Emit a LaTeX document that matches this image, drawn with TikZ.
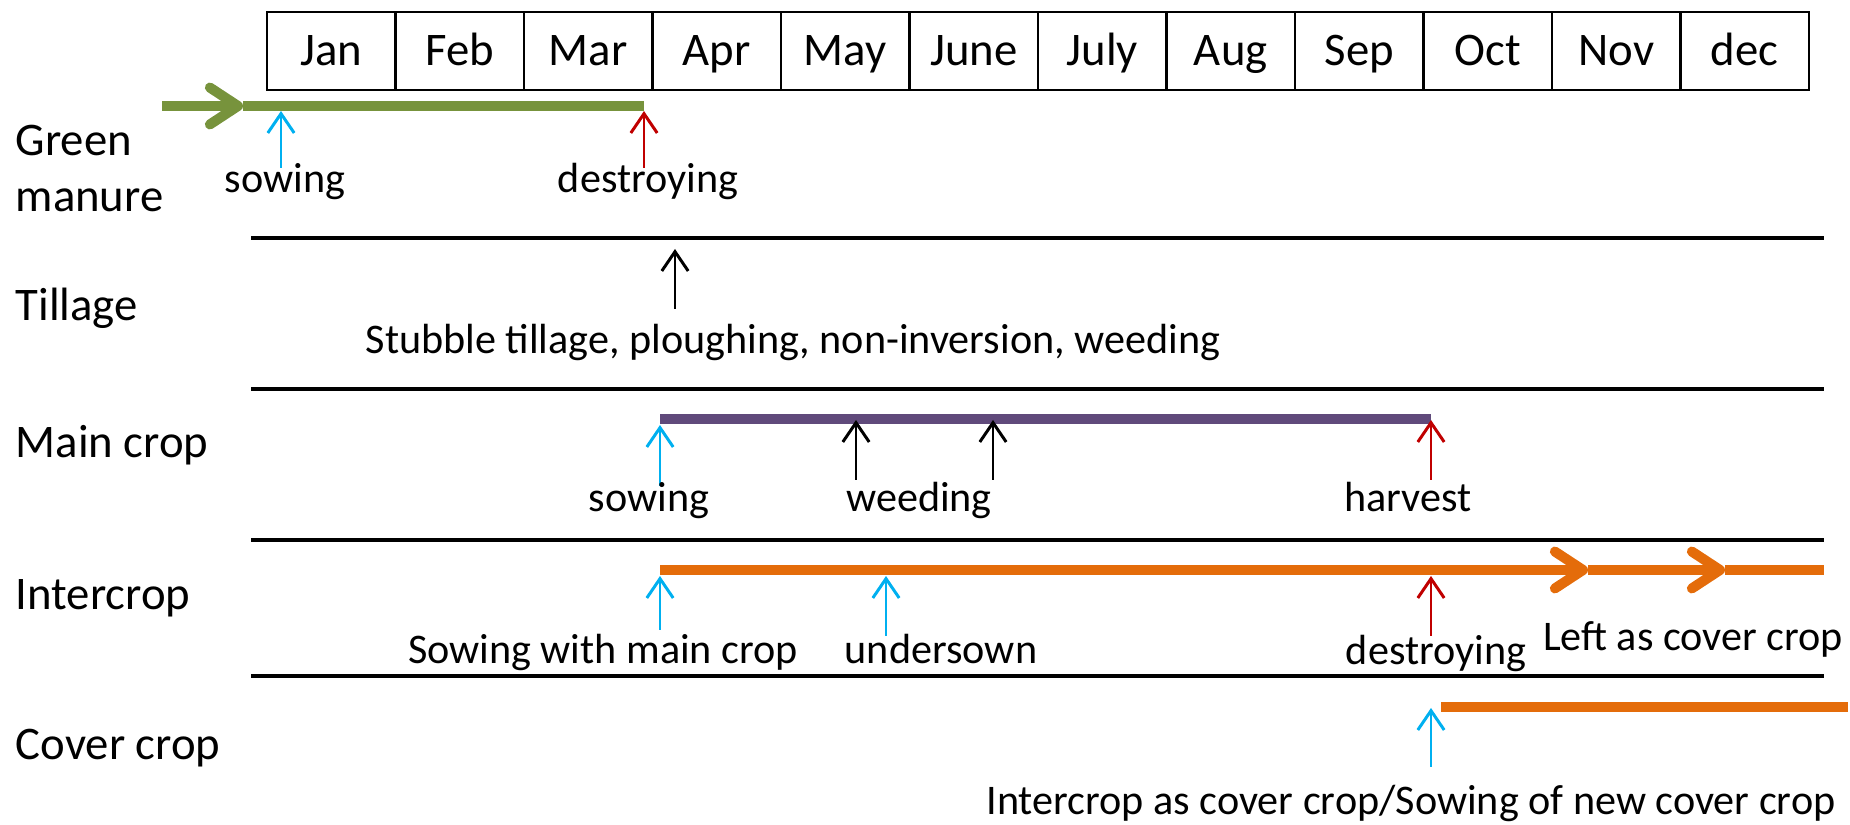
\documentclass[tikz,border=0pt]{standalone}
\usepackage{fontspec}
\setmainfont{Carlito}
\usepackage{tikz}
\usetikzlibrary{arrows.meta}

\definecolor{manuregreen}{HTML}{77933C}
\definecolor{cropviolet}{HTML}{604A7B}
\definecolor{interorange}{HTML}{E46C0A}
\definecolor{sowblue}{HTML}{00B0F0}
\definecolor{killred}{HTML}{C00000}

\begin{document}
\begin{tikzpicture}[x=0.1mm, y=-0.1mm,
    month/.style={font=\fontsize{13.3}{16}\selectfont, anchor=base, inner sep=0pt},
    rowlabel/.style={font=\fontsize{13.3}{16}\selectfont, anchor=base west, inner sep=0pt, align=left},
    event/.style={font=\fontsize{12}{14}\selectfont, anchor=base, inner sep=0pt},
    divider/.style={line width=1.35pt},
    bar/.style={line width=2.85pt},
    chev/.style={-{Straight Barb[length=8pt, width=10.5pt, round]}},
    uparrow/.style={line width=0.85pt, -{Straight Barb[length=5.5pt, width=7.5pt]}},
    sowarrow/.style={uparrow, sowblue},
    killarrow/.style={uparrow, killred},
    workarrow/.style={uparrow, black}]

        \useasboundingbox (0,0) rectangle (1850,825);

        % Month table
        \foreach \m [count=\i] in {Jan,Feb,Mar,Apr,May,June,July,Aug,Sep,Oct,Nov,dec} {
            \draw[line width=0.7pt] ({267+(\i-1)*128.5},12) rectangle ({267+\i*128.5},90);
            \node[month] (m\i) at ({267+(\i-0.5)*128.5},66) {\m};
        }

        % Row labels
        \node[rowlabel, anchor=north west] (green) at (15,124) {Green\\manure};
        \node[rowlabel] (till) at (15,321) {Tillage};
        \node[rowlabel] (main) at (15,458) {Main crop};
        \node[rowlabel] (inter) at (15,610) {Intercrop};
        \node[rowlabel] (cover) at (15,760) {Cover crop};

        % Dividers between the rows
        \foreach \y in {238,389,540,676}
            \draw[divider] (251,\y) -- (1824,\y);

        % Green manure
        \coordinate (G0) at (162,106);
        \coordinate (Gt) at (243,106);
        \coordinate (G1) at (644,106);
        \draw[bar, manuregreen, chev] (G0) -- (Gt);
        \draw[bar, manuregreen] (Gt) -- (G1);
        \coordinate (Gs) at (281,168);
        \coordinate (Gsh) at (281,111);
        \coordinate (Gd) at (644,168);
        \coordinate (Gdh) at (644,111);
        \draw[sowarrow] (Gs) -- (Gsh);
        \draw[killarrow] (Gd) -- (Gdh);
        \node[event] (gsow) at (285,193) {sowing};
        \node[event] (gkill) at (648,193) {destroying};

        % Tillage
        \coordinate (T) at (675,309);
        \coordinate (Th) at (675,249);
        \draw[workarrow] (T) -- (Th);
        \node[event] (twork) at (793,354) {Stubble tillage, ploughing, non-inversion, weeding};

        % Main crop
        \coordinate (M0) at (660,419);
        \coordinate (M1) at (1431,419);
        \draw[bar, cropviolet] (M0) -- (M1);
        \coordinate (Ms) at (660,486);
        \coordinate (Msh) at (660,425);
        \draw[sowarrow] (Ms) -- (Msh);
        \foreach \x in {856,993}
            \draw[workarrow] (\x,480) -- (\x,420);
        \coordinate (Mh) at (1431,480);
        \coordinate (Mhh) at (1431,420);
        \draw[killarrow] (Mh) -- (Mhh);
        \node[event] (msow) at (649,512) {sowing};
        \node[event] (mweed) at (919,512) {weeding};
        \node[event] (mharv) at (1408,512) {harvest};

        % Intercrop
        \coordinate (I0) at (660,570);
        \coordinate (Ia) at (1588,570);
        \coordinate (Ib) at (1725,570);
        \coordinate (I1) at (1824,570);
        \draw[bar, interorange, chev] (I0) -- (Ia);
        \draw[bar, interorange, chev] (Ia) -- (Ib);
        \draw[bar, interorange] (Ib) -- (I1);
        \coordinate (Is) at (660,630);
        \coordinate (Ish) at (660,576);
        \coordinate (Iu) at (886,636);
        \coordinate (Iuh) at (886,576);
        \coordinate (Id) at (1431,636);
        \coordinate (Idh) at (1431,576);
        \draw[sowarrow] (Is) -- (Ish);
        \draw[sowarrow] (Iu) -- (Iuh);
        \draw[killarrow] (Id) -- (Idh);
        \node[event] (isow) at (603,664) {Sowing with main crop};
        \node[event] (iunder) at (941,664) {undersown};
        \node[event] (ikill) at (1436,665) {destroying};
        \node[event] (ileft) at (1693,651) {Left as cover crop};

        % Cover crop
        \coordinate (C0) at (1441,707);
        \coordinate (C1) at (1848,707);
        \draw[bar, interorange] (C0) -- (C1);
        \coordinate (Cs) at (1431,767);
        \coordinate (Csh) at (1431,708);
        \draw[sowarrow] (Cs) -- (Csh);
        \node[event] (csow) at (1411,815) {Intercrop as cover crop/Sowing of new cover crop};

\end{tikzpicture}
\end{document}
